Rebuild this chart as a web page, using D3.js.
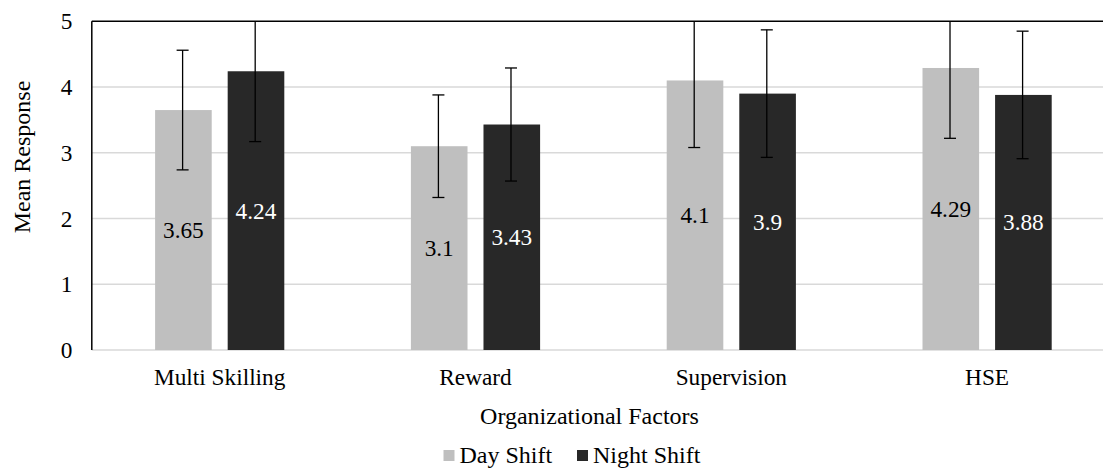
<!DOCTYPE html>
<html><head><meta charset="utf-8">
<script src="https://cdn.jsdelivr.net/npm/d3@7"></script>
<style>body{margin:0;background:#fff}</style>
</head><body>
<svg id="c" width="1103" height="468"></svg>
<script>
const categories = ["Multi Skilling", "Reward", "Supervision", "HSE"];
const seriesNames = ["Day Shift", "Night Shift"];
const daySeries = [3.65, 3.10, 4.10, 4.29];
const nightSeries = [4.24, 3.43, 3.90, 3.88];
const dayError = [0.91, 0.78, 1.02, 1.07];
const nightError = [1.07, 0.86, 0.97, 0.97];
const yTicks = [0, 1, 2, 3, 4, 5];
const colors = ["#bfbfbf", "#282828"];
const labelColors = ["#000", "#fff"];

const FONT = '"Liberation Serif", Tinos, "Times New Roman", serif';
const svg = d3.select("#c");
const L = 91.8, R = 1115, T = 21.3, B = 350;
const fs = 23.3;

const x0 = d3.scaleBand().domain(categories).range([L, R]).padding(0);
const x1 = d3.scaleBand().domain(seriesNames).range([63.3, x0.bandwidth() - 63.3]).paddingInner(0.22);
const y = d3.scaleLinear().domain([0, 5]).range([B, T]);

svg.append("g").selectAll("line").data(yTicks.filter(d => d < 5)).join("line")
  .attr("x1", L).attr("x2", R).attr("y1", d => y(d)).attr("y2", d => y(d))
  .attr("stroke", "#d9d9d9").attr("stroke-width", 1.5);

const data = categories.map((c, i) => ({
  cat: c,
  vals: [
    {s: seriesNames[0], v: daySeries[i], e: dayError[i], k: 0},
    {s: seriesNames[1], v: nightSeries[i], e: nightError[i], k: 1}
  ]
}));

const groups = svg.append("g").selectAll("g").data(data).join("g")
  .attr("transform", d => `translate(${x0(d.cat)},0)`);

groups.selectAll("rect").data(d => d.vals).join("rect")
  .attr("x", d => x1(d.s)).attr("width", x1.bandwidth())
  .attr("y", d => y(d.v)).attr("height", d => y(0) - y(d.v))
  .attr("fill", d => colors[d.k]);

const eb = groups.selectAll("g.eb").data(d => d.vals).join("g").attr("class", "eb")
  .attr("transform", d => `translate(${x1(d.s) + x1.bandwidth() / 2 - 0.8},0)`);
eb.append("line").attr("x1", 0).attr("x2", 0)
  .attr("y1", d => y(Math.min(5, d.v + d.e))).attr("y2", d => y(d.v - d.e))
  .attr("stroke", "#000").attr("stroke-width", 1.3);
eb.filter(d => d.v + d.e <= 5).append("line")
  .attr("x1", -6).attr("x2", 6).attr("y1", d => y(d.v + d.e)).attr("y2", d => y(d.v + d.e))
  .attr("stroke", "#000").attr("stroke-width", 1.3);
eb.append("line")
  .attr("x1", -6).attr("x2", 6).attr("y1", d => y(d.v - d.e)).attr("y2", d => y(d.v - d.e))
  .attr("stroke", "#000").attr("stroke-width", 1.3);

svg.append("line").attr("x1", L).attr("x2", R).attr("y1", y(5)).attr("y2", y(5))
  .attr("stroke", "#000").attr("stroke-width", 1.5);
svg.append("line").attr("x1", L).attr("x2", L).attr("y1", y(5)).attr("y2", y(0))
  .attr("stroke", "#000").attr("stroke-width", 1.5);

// data labels
groups.selectAll("text.lbl").data(d => d.vals).join("text").attr("class", "lbl")
  .attr("x", d => x1(d.s) + x1.bandwidth() / 2)
  .attr("y", d => (y(d.v) + y(0)) / 2 + 8)
  .attr("text-anchor", "middle").attr("fill", d => labelColors[d.k])
  .style("font-size", fs + "px").style("font-family", FONT)
  .text(d => d.v);

// y tick labels
svg.append("g").selectAll("text").data(yTicks).join("text")
  .attr("x", 72.5).attr("y", d => y(d) + 8)
  .attr("text-anchor", "end").attr("fill", "#000")
  .style("font-size", fs + "px").style("font-family", FONT)
  .text(d => d);

// category labels
svg.append("g").selectAll("text").data(categories).join("text")
  .attr("x", d => x0(d) + x0.bandwidth() / 2).attr("y", 385)
  .attr("text-anchor", "middle").attr("fill", "#000")
  .style("font-size", fs + "px").style("font-family", FONT)
  .text(d => d);

// axis titles
svg.append("text").attr("x", 589.5).attr("y", 424)
  .attr("text-anchor", "middle").attr("fill", "#000")
  .style("font-size", "24px").style("font-family", FONT)
  .text("Organizational Factors");
svg.append("text").attr("transform", "translate(30,157) rotate(-90)")
  .attr("text-anchor", "middle").attr("fill", "#000")
  .style("font-size", "24px").style("font-family", FONT)
  .text("Mean Response");

// legend
const legX = [443.5, 577];
seriesNames.forEach((s, i) => {
  svg.append("rect").attr("x", legX[i]).attr("y", 450).attr("width", 11).attr("height", 11).attr("fill", colors[i]);
  svg.append("text").attr("x", legX[i] + 16).attr("y", 462.5).attr("fill", "#000")
    .style("font-size", "24px").style("font-family", FONT).text(s);
});
</script>
</body></html>
